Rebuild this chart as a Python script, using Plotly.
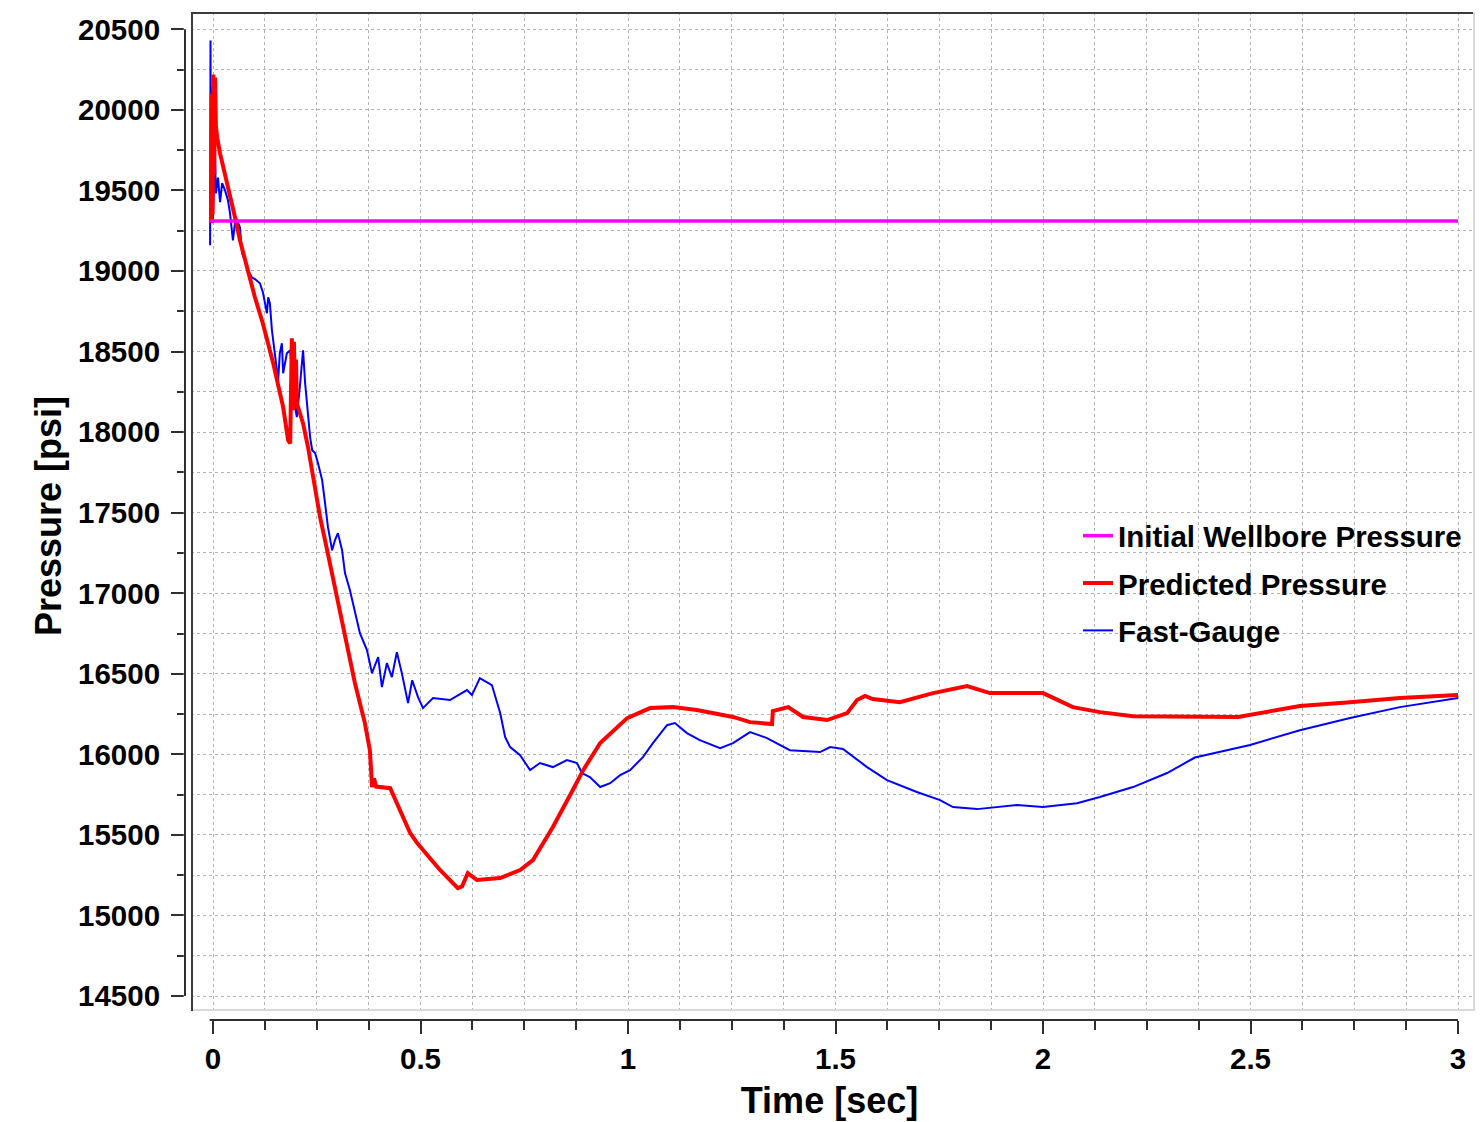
import plotly.graph_objects as go

# ---------------- data ----------------
time_initial = [-0.007, 3.0]
pressure_initial = [19310, 19310]

time_predicted = [
    -0.005, -0.003, -0.001, 0.001, 0.003, 0.005, 0.007, 0.010, 0.017, 0.029,
    0.041, 0.053, 0.065, 0.077, 0.089, 0.101, 0.120, 0.145, 0.169, 0.181,
    0.186, 0.188, 0.190, 0.193, 0.195, 0.198, 0.200, 0.202, 0.217, 0.229,
    0.241, 0.258, 0.275, 0.289, 0.313, 0.342, 0.366, 0.378, 0.381, 0.383,
    0.388, 0.393, 0.427, 0.443, 0.475, 0.492, 0.547, 0.590, 0.600, 0.614,
    0.636, 0.692, 0.740, 0.771, 0.819, 0.867, 0.892, 0.933, 0.998, 1.053,
    1.108, 1.166, 1.253, 1.294, 1.347, 1.349, 1.386, 1.422, 1.480, 1.528,
    1.552, 1.571, 1.590, 1.655, 1.735, 1.817, 1.872, 2.000, 2.072, 2.137,
    2.217, 2.470, 2.619, 2.740, 2.860, 3.000,
]
pressure_predicted = [
    19300, 20100, 19350, 20220, 19600, 20200, 19900, 19830, 19730, 19606,
    19481, 19334, 19190, 19067, 18942, 18837, 18676, 18428, 18155, 17950,
    17930, 18300, 18583, 18136, 18560, 18200, 18450, 18180, 18054, 17906,
    17720, 17472, 17267, 17100, 16790, 16442, 16194, 16026, 15900, 15797,
    15850, 15800, 15790, 15697, 15512, 15449, 15282, 15170, 15180, 15263,
    15220, 15232, 15282, 15344, 15549, 15779, 15902, 16070, 16225, 16287,
    16293, 16275, 16232, 16200, 16188, 16269, 16293, 16232, 16213, 16256,
    16337, 16362, 16343, 16324, 16380, 16424, 16380, 16380, 16293, 16262,
    16237, 16232, 16300, 16324, 16349, 16368,
]

time_gauge = [
    -0.007, -0.006, -0.005, -0.002, -0.001, 0.005, 0.007, 0.012, 0.017, 0.022,
    0.029, 0.036, 0.041, 0.045, 0.048, 0.053, 0.058, 0.065, 0.070, 0.077,
    0.084, 0.094, 0.101, 0.113, 0.120, 0.130, 0.133, 0.137, 0.142, 0.157,
    0.161, 0.166, 0.169, 0.178, 0.186, 0.198, 0.202, 0.210, 0.217, 0.222,
    0.227, 0.234, 0.239, 0.246, 0.253, 0.263, 0.270, 0.277, 0.287, 0.294,
    0.301, 0.311, 0.318, 0.330, 0.354, 0.371, 0.383, 0.398, 0.407, 0.419,
    0.431, 0.443, 0.455, 0.470, 0.480, 0.494, 0.506, 0.530, 0.571, 0.612,
    0.624, 0.643, 0.672, 0.692, 0.704, 0.716, 0.740, 0.764, 0.788, 0.819,
    0.853, 0.877, 0.889, 0.908, 0.933, 0.957, 0.981, 1.005, 1.036, 1.060,
    1.094, 1.113, 1.142, 1.173, 1.222, 1.253, 1.294, 1.335, 1.390, 1.463,
    1.487, 1.518, 1.576, 1.624, 1.696, 1.752, 1.783, 1.841, 1.937, 2.000,
    2.082, 2.137, 2.217, 2.299, 2.366, 2.499, 2.619, 2.740, 2.860, 3.000,
]
pressure_gauge = [
    19160, 20430, 19300, 20140, 19296, 19706, 19481, 19580, 19427, 19545,
    19500, 19440, 19358, 19253, 19190, 19300, 19315, 19270, 19110, 19067,
    19005, 18960, 18950, 18924, 18870, 18738, 18837, 18800, 18632, 18321,
    18490, 18551, 18365, 18490, 18508, 18155, 18093, 18303, 18508, 18303,
    18155, 17969, 17888, 17870, 17807, 17702, 17559, 17410, 17267, 17330,
    17373, 17267, 17125, 17019, 16752, 16647, 16504, 16603, 16417, 16566,
    16479, 16634, 16504, 16318, 16460, 16355, 16287, 16349, 16337, 16399,
    16368, 16473, 16430, 16256, 16107, 16045, 15995, 15902, 15946, 15921,
    15964, 15946, 15884, 15859, 15797, 15821, 15871, 15902, 15983, 16070,
    16181, 16194, 16132, 16088, 16039, 16070, 16138, 16101, 16026, 16014,
    16045, 16033, 15921, 15840, 15766, 15716, 15673, 15660, 15685, 15673,
    15697, 15735, 15797, 15884, 15980, 16058, 16150, 16225, 16293, 16349,
]

x_tick_vals = [0, 0.5, 1, 1.5, 2, 2.5, 3]
x_tick_text = ["0", "0.5", "1", "1.5", "2", "2.5", "3"]
y_tick_vals = [14500, 15000, 15500, 16000, 16500, 17000, 17500, 18000,
               18500, 19000, 19500, 20000, 20500]
y_tick_text = [str(v) for v in y_tick_vals]

# ---------------- layout geometry ----------------
W, H = 1480, 1122
ML, MR, MT, MB = 185, 6, 12, 102
PW = W - ML - MR
PH = H - MT - MB


def px_x(px):
    return (px - ML) / PW


def px_y(py):
    return (H - MB - py) / PH


FONT = "Liberation Sans, Arial, Helvetica, sans-serif"
GRID = "#b4b4b4"
AX = "#2f2f2f"

fig = go.Figure()

fig.add_trace(go.Scatter(
    x=time_gauge, y=pressure_gauge, mode="lines", name="Fast-Gauge",
    line=dict(color="#0000ff", width=2), legendgroup="g3", legendrank=3,
))
fig.add_trace(go.Scatter(
    x=time_predicted, y=pressure_predicted, mode="lines", name="Predicted Pressure",
    line=dict(color="#ff0000", width=4), legendgroup="g2", legendrank=2,
))
fig.add_trace(go.Scatter(
    x=time_initial, y=pressure_initial, mode="lines", name="Initial Wellbore Pressure",
    line=dict(color="#ff00ff", width=3.5), legendgroup="g1", legendrank=1,
))

tick_font = dict(family=FONT, size=29.5, color="#000000", weight="bold")
title_font = dict(family=FONT, size=36, color="#000000", weight="bold")

fig.update_layout(
    width=W, height=H,
    margin=dict(l=ML, r=MR, t=MT, b=MB, pad=0),
    paper_bgcolor="white", plot_bgcolor="white",
    showlegend=True,
    legend=dict(
        x=px_x(1078), y=px_y(510), xanchor="left", yanchor="top",
        bgcolor="rgba(0,0,0,0)", borderwidth=0,
        font=dict(family=FONT, size=29.5, color="#000000", weight="bold"),
        tracegroupgap=6,
    ),
    xaxis=dict(
        range=[(ML - 213) / 415.0, (W - MR - 213) / 415.0],
        domain=[0, 1], automargin=False,
        tickmode="array", tickvals=x_tick_vals, ticktext=x_tick_text,
        ticks="outside", ticklen=13, tickwidth=2, tickcolor=AX,
        tickfont=tick_font, ticklabelstandoff=0,
        showline=False, zeroline=False,
        showgrid=True, gridcolor=GRID, griddash="dot", gridwidth=1,
        minor=dict(dtick=0.125, tick0=0, ticks="outside", ticklen=9, tickwidth=2,
                   tickcolor=AX, showgrid=True, gridcolor=GRID, griddash="dot",
                   gridwidth=1),
        title=dict(text="Time [sec]", font=title_font, standoff=13),
    ),
    yaxis=dict(
        range=[20500 - (H - MB - 29.3) / 0.16112, 20500 + (29.3 - MT) / 0.16112],
        domain=[0, 1], automargin=False,
        tickmode="array", tickvals=y_tick_vals, ticktext=y_tick_text,
        ticks="outside", ticklen=13, tickwidth=2, tickcolor=AX,
        tickfont=tick_font, ticklabelstandoff=5,
        showline=False, zeroline=False,
        showgrid=True, gridcolor=GRID, griddash="dot", gridwidth=1,
        minor=dict(dtick=250, tick0=0, ticks="outside", ticklen=7, tickwidth=2,
                   tickcolor=AX, showgrid=True, gridcolor=GRID, griddash="dot",
                   gridwidth=1),
        title=dict(text="Pressure [psi]", font=title_font, standoff=5),
    ),
)

shapes = [
    # white gaps between detached axes and the plot frame
    dict(type="rect", xref="paper", yref="paper", x0=-0.001, x1=px_x(191),
         y0=0, y1=1, fillcolor="white", line=dict(width=0), layer="above"),
    dict(type="rect", xref="paper", yref="paper", x0=0, x1=1,
         y0=-0.001, y1=px_y(1011), fillcolor="white", line=dict(width=0), layer="above"),
    # plot frame: dark left/top, light right/bottom
    dict(type="line", xref="paper", yref="paper", x0=px_x(192), x1=px_x(192),
         y0=px_y(1011), y1=px_y(12), line=dict(color="#3c3c3c", width=2), layer="above"),
    dict(type="line", xref="paper", yref="paper", x0=px_x(191), x1=px_x(1474),
         y0=px_y(13), y1=px_y(13), line=dict(color="#3c3c3c", width=2), layer="above"),
    dict(type="line", xref="paper", yref="paper", x0=px_x(1474), x1=px_x(1474),
         y0=px_y(1011), y1=px_y(12), line=dict(color="#dadada", width=2), layer="above"),
    dict(type="line", xref="paper", yref="paper", x0=px_x(193), x1=px_x(1474),
         y0=px_y(1010), y1=px_y(1010), line=dict(color="#dadada", width=2), layer="above"),
    # detached axis lines
    dict(type="line", xref="paper", yref="y", x0=0, x1=0,
         y0=y_tick_vals[0], y1=y_tick_vals[-1], line=dict(color=AX, width=2), layer="above"),
    dict(type="line", xref="x", yref="paper", x0=-0.008, x1=x_tick_vals[-1],
         y0=0, y1=0, line=dict(color=AX, width=2), layer="above"),
]
fig.update_layout(shapes=shapes)

fig.write_html("out.html")
